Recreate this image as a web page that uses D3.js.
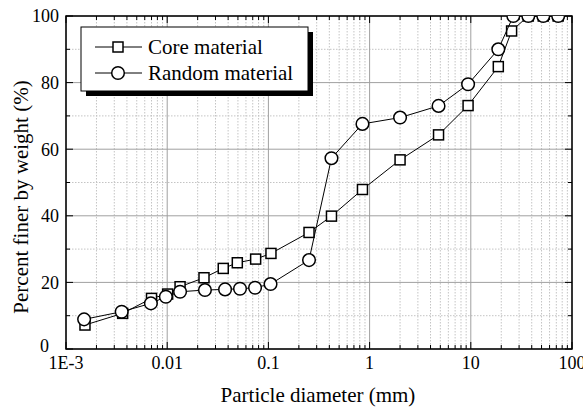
<!DOCTYPE html>
<html>
<head>
<meta charset="utf-8">
<script src="https://cdn.jsdelivr.net/npm/d3@7"></script>
<style>
  body { margin: 0; background: #fff; }
</style>
</head>
<body>
<div id="chart"></div>
<script>
// grain size distribution
const seriesNames = ["Core material", "Random material"];
const sizeCore = [0.00154, 0.00363, 0.0070, 0.0101, 0.0134, 0.0231, 0.0358, 0.0493, 0.0748, 0.106, 0.252, 0.42, 0.85, 2.0, 4.8, 9.4, 18.7, 25.3, 37, 52, 73];
const pctCore = [7.2, 10.7, 15.2, 16.5, 18.7, 21.4, 24.2, 25.9, 27.0, 28.7, 35.0, 39.9, 47.9, 56.8, 64.3, 73.1, 84.8, 95.5, 100, 100, 100];
const sizeRandom = [0.00151, 0.00355, 0.0069, 0.0097, 0.0134, 0.0236, 0.0373, 0.0524, 0.0738, 0.105, 0.252, 0.42, 0.85, 2.0, 4.8, 9.4, 18.7, 26.3, 37, 52, 73];
const pctRandom = [8.9, 11.2, 13.7, 15.7, 17.2, 17.7, 17.9, 18.1, 18.4, 19.5, 26.7, 57.3, 67.6, 69.5, 73.0, 79.5, 90.0, 100, 100, 100, 100];
const xTicks = [0.001, 0.01, 0.1, 1, 10, 100];
const xTickLabels = ["1E-3", "0.01", "0.1", "1", "10", "100"];
const yTicks = [0, 20, 40, 60, 80, 100];

const serif = "Liberation Serif";

const margin = {top: 16, right: 11, bottom: 59, left: 66},
      width = 583 - margin.left - margin.right,
      height = 408 - margin.top - margin.bottom;

const svg = d3.select("#chart").append("svg")
  .attr("width", 583).attr("height", 408);
const g = svg.append("g").attr("transform", `translate(${margin.left},${margin.top})`);

const x = d3.scaleLog().domain([0.001, 100]).range([0, width]);
const y = d3.scaleLinear().domain([0, 100]).range([height, 0]);

// minor x positions 2..9 per decade
const xMinor = [];
for (let e = -3; e < 2; e++) for (let m = 2; m <= 9; m++) xMinor.push(m * Math.pow(10, e));
const yMinor = [10, 30, 50, 70, 90];

// grid
g.append("g").selectAll("line").data(xMinor).join("line")
  .attr("x1", d => x(d)).attr("x2", d => x(d)).attr("y1", 0).attr("y2", height)
  .attr("stroke", "#c4c4c4").attr("stroke-dasharray", "1.5,1.5");
g.append("g").selectAll("line").data(yMinor).join("line")
  .attr("x1", 0).attr("x2", width).attr("y1", d => y(d)).attr("y2", d => y(d))
  .attr("stroke", "#c4c4c4").attr("stroke-dasharray", "1.5,1.5");
g.append("g").selectAll("line").data(xTicks).join("line")
  .attr("x1", d => x(d)).attr("x2", d => x(d)).attr("y1", 0).attr("y2", height)
  .attr("stroke", "#a0a0a0");
g.append("g").selectAll("line").data(yTicks).join("line")
  .attr("x1", 0).attr("x2", width).attr("y1", d => y(d)).attr("y2", d => y(d))
  .attr("stroke", "#a0a0a0");

// inward ticks on all four sides
const tk = g.append("g").attr("stroke", "#000").attr("stroke-width", 1);
xMinor.forEach(d => {
  tk.append("line").attr("x1", x(d)).attr("x2", x(d)).attr("y1", height).attr("y2", height - 4);
  tk.append("line").attr("x1", x(d)).attr("x2", x(d)).attr("y1", 0).attr("y2", 4);
});
xTicks.forEach(d => {
  tk.append("line").attr("x1", x(d)).attr("x2", x(d)).attr("y1", height).attr("y2", height - 7);
  tk.append("line").attr("x1", x(d)).attr("x2", x(d)).attr("y1", 0).attr("y2", 7);
});
yMinor.forEach(d => {
  tk.append("line").attr("x1", 0).attr("x2", 4).attr("y1", y(d)).attr("y2", y(d));
  tk.append("line").attr("x1", width).attr("x2", width - 4).attr("y1", y(d)).attr("y2", y(d));
});
yTicks.forEach(d => {
  tk.append("line").attr("x1", 0).attr("x2", 7).attr("y1", y(d)).attr("y2", y(d));
  tk.append("line").attr("x1", width).attr("x2", width - 7).attr("y1", y(d)).attr("y2", y(d));
});

// frame
g.append("rect").attr("width", width).attr("height", height)
  .attr("fill", "none").attr("stroke", "#000").attr("stroke-width", 1.5);

// tick labels
g.append("g").selectAll("text").data(xTicks).join("text")
  .attr("x", d => x(d)).attr("y", height + 20)
  .attr("text-anchor", "middle")
  .attr("font-family", serif).attr("font-size", 18)
  .text((d, i) => xTickLabels[i]);
g.append("g").selectAll("text").data(yTicks).join("text")
  .attr("x", d => d === 0 ? -17 : -7)
  .attr("y", d => d === 0 ? y(d) - 3 : y(d)).attr("dy", "0.35em")
  .attr("text-anchor", "end")
  .attr("font-family", serif).attr("font-size", 18)
  .text(d => d);

// axis titles
svg.append("text")
  .attr("x", margin.left + width / 2 - 1).attr("y", 402)
  .attr("text-anchor", "middle")
  .attr("font-family", serif).attr("font-size", 21)
  .text("Particle diameter (mm)");
svg.append("text")
  .attr("transform", "translate(28,197) rotate(-90)")
  .attr("text-anchor", "middle")
  .attr("font-family", serif).attr("font-size", 21)
  .text("Percent finer by weight (%)");

// data
svg.append("clipPath").attr("id", "plotclip").append("rect")
  .attr("width", width).attr("height", height);
const plot = g.append("g").attr("clip-path", "url(#plotclip)");
const line = d3.line().x(d => x(d[0])).y(d => y(d[1]));

const core = sizeCore.map((d, i) => [d, pctCore[i]]);
const random = sizeRandom.map((d, i) => [d, pctRandom[i]]);

plot.append("path").datum(core).attr("d", line)
  .attr("fill", "none").attr("stroke", "#000").attr("stroke-width", 1);
plot.append("g").selectAll("rect").data(core).join("rect")
  .attr("x", d => x(d[0]) - 5).attr("y", d => y(d[1]) - 5)
  .attr("width", 10).attr("height", 10)
  .attr("fill", "#fff").attr("stroke", "#000").attr("stroke-width", 1.5);

plot.append("path").datum(random).attr("d", line)
  .attr("fill", "none").attr("stroke", "#000").attr("stroke-width", 1);
plot.append("g").selectAll("circle").data(random).join("circle")
  .attr("cx", d => x(d[0])).attr("cy", d => y(d[1])).attr("r", 6.3)
  .attr("fill", "#fff").attr("stroke", "#000").attr("stroke-width", 1.5);

// legend
const lg = svg.append("g").attr("transform", "translate(81,27)");
lg.append("rect").attr("x", 5).attr("y", 5).attr("width", 227).attr("height", 64).attr("fill", "#000");
lg.append("rect").attr("width", 227).attr("height", 64)
  .attr("fill", "#fff").attr("stroke", "#000").attr("stroke-width", 1);
seriesNames.forEach((name, i) => {
  const ly = 20 + i * 26;
  lg.append("line").attr("x1", 14).attr("x2", 61).attr("y1", ly).attr("y2", ly)
    .attr("stroke", "#000").attr("stroke-width", 1);
  if (i === 0) {
    lg.append("rect").attr("x", 37 - 5).attr("y", ly - 5).attr("width", 10).attr("height", 10)
      .attr("fill", "#fff").attr("stroke", "#000").attr("stroke-width", 1.5);
  } else {
    lg.append("circle").attr("cx", 37).attr("cy", ly).attr("r", 6.3)
      .attr("fill", "#fff").attr("stroke", "#000").attr("stroke-width", 1.5);
  }
  lg.append("text").attr("x", 67).attr("y", ly + 7)
    .attr("font-family", serif).attr("font-size", 21)
    .text(name);
});
</script>
</body>
</html>
